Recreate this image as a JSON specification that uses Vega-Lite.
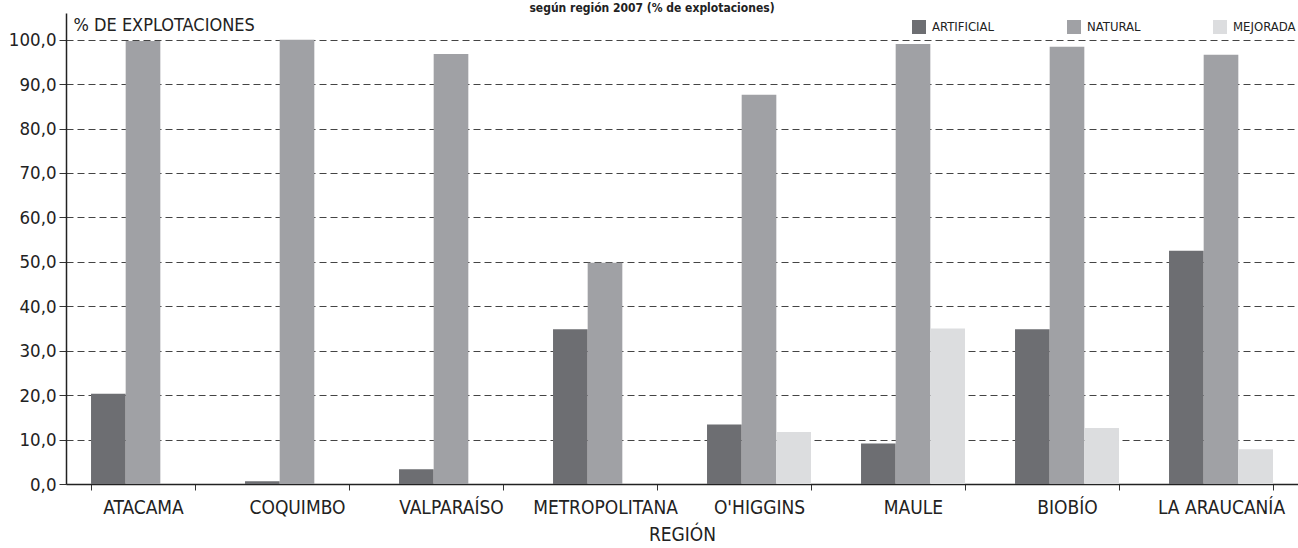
{
  "$schema": "https://vega.github.io/schema/vega-lite/v6.json",
  "autosize": {"type": "none"},
  "width": 1232,
  "height": 471,
  "padding": {"left": 66, "top": 13, "right": 0, "bottom": 64},
  "background": "white",
  "title": {
    "text": "según región 2007 (% de explotaciones)",
    "font": "DejaVu Sans Condensed, sans-serif",
    "fontSize": 12,
    "fontWeight": "bold",
    "color": "#222222",
    "anchor": "middle",
    "offset": -2,
    "dx": -30
  },
  "data": {
    "values": [
      {"region": "ATACAMA", "tipo": "ARTIFICIAL", "pct": 20.3},
      {"region": "ATACAMA", "tipo": "NATURAL", "pct": 99.7},
      {"region": "ATACAMA", "tipo": "MEJORADA", "pct": 0},
      {"region": "COQUIMBO", "tipo": "ARTIFICIAL", "pct": 0.6},
      {"region": "COQUIMBO", "tipo": "NATURAL", "pct": 100.0},
      {"region": "COQUIMBO", "tipo": "MEJORADA", "pct": 0},
      {"region": "VALPARAÍSO", "tipo": "ARTIFICIAL", "pct": 3.3},
      {"region": "VALPARAÍSO", "tipo": "NATURAL", "pct": 96.8},
      {"region": "VALPARAÍSO", "tipo": "MEJORADA", "pct": 0},
      {"region": "METROPOLITANA", "tipo": "ARTIFICIAL", "pct": 34.8},
      {"region": "METROPOLITANA", "tipo": "NATURAL", "pct": 49.8},
      {"region": "METROPOLITANA", "tipo": "MEJORADA", "pct": 0},
      {"region": "O'HIGGINS", "tipo": "ARTIFICIAL", "pct": 13.4},
      {"region": "O'HIGGINS", "tipo": "NATURAL", "pct": 87.6},
      {"region": "O'HIGGINS", "tipo": "MEJORADA", "pct": 11.7},
      {"region": "MAULE", "tipo": "ARTIFICIAL", "pct": 9.1},
      {"region": "MAULE", "tipo": "NATURAL", "pct": 99.0},
      {"region": "MAULE", "tipo": "MEJORADA", "pct": 35.0},
      {"region": "BIOBÍO", "tipo": "ARTIFICIAL", "pct": 34.8},
      {"region": "BIOBÍO", "tipo": "NATURAL", "pct": 98.4},
      {"region": "BIOBÍO", "tipo": "MEJORADA", "pct": 12.6},
      {"region": "LA ARAUCANÍA", "tipo": "ARTIFICIAL", "pct": 52.5},
      {"region": "LA ARAUCANÍA", "tipo": "NATURAL", "pct": 96.6},
      {"region": "LA ARAUCANÍA", "tipo": "MEJORADA", "pct": 7.8}
    ]
  },
  "mark": {"type": "bar"},
  "encoding": {
    "x": {
      "field": "region",
      "type": "nominal",
      "sort": null,
      "scale": {"paddingInner": 0.325, "paddingOuter": 0.1625},
      "axis": {
        "title": "REGIÓN",
        "titleFontSize": 19,
        "titleFontWeight": "normal",
        "titleColor": "#222222",
        "titlePadding": 8,
        "labelAngle": 0,
        "labelFontSize": 19,
        "labelColor": "#222222",
        "labelPadding": 8,
        "tickBand": "extent",
        "tickSize": 6,
        "tickColor": "#333333",
        "domainColor": "#222222",
        "domainWidth": 1.5,
        "grid": false
      }
    },
    "xOffset": {
      "field": "tipo",
      "type": "nominal",
      "sort": ["ARTIFICIAL", "NATURAL", "MEJORADA"],
      "scale": {"paddingInner": 0, "paddingOuter": 0}
    },
    "y": {
      "field": "pct",
      "type": "quantitative",
      "scale": {"domain": [0, 106], "nice": false},
      "axis": {
        "values": [0, 10, 20, 30, 40, 50, 60, 70, 80, 90, 100],
        "labelExpr": "replace(format(datum.value, '.1f'), '.', ',')",
        "labelFontSize": 18.5,
        "labelColor": "#222222",
        "labelPadding": 3,
        "tickSize": 7,
        "tickColor": "#333333",
        "domainColor": "#222222",
        "domainWidth": 1.5,
        "grid": true,
        "gridColor": "#444444",
        "gridDash": [7, 4],
        "gridWidth": 1,
        "title": "% DE EXPLOTACIONES",
        "titleAngle": 0,
        "titleAlign": "left",
        "titleBaseline": "alphabetic",
        "titleX": 7,
        "titleY": 17,
        "titleFontSize": 18,
        "titleFontWeight": "normal",
        "titleColor": "#222222"
      }
    },
    "color": {
      "field": "tipo",
      "type": "nominal",
      "sort": ["ARTIFICIAL", "NATURAL", "MEJORADA"],
      "scale": {
        "domain": ["ARTIFICIAL", "NATURAL", "MEJORADA"],
        "range": ["#6d6e72", "#a0a1a5", "#dcdddf"]
      },
      "legend": {
        "title": null,
        "orient": "none",
        "legendX": 846,
        "legendY": 7,
        "direction": "horizontal",
        "columns": 3,
        "columnPadding": 72,
        "symbolType": "square",
        "symbolSize": 196,
        "symbolStrokeWidth": 0,
        "symbolOpacity": 1,
        "labelFontSize": 13,
        "labelColor": "#222222",
        "labelOffset": 6
      }
    }
  },
  "config": {
    "font": "DejaVu Sans Condensed, sans-serif",
    "view": {"stroke": null}
  }
}
